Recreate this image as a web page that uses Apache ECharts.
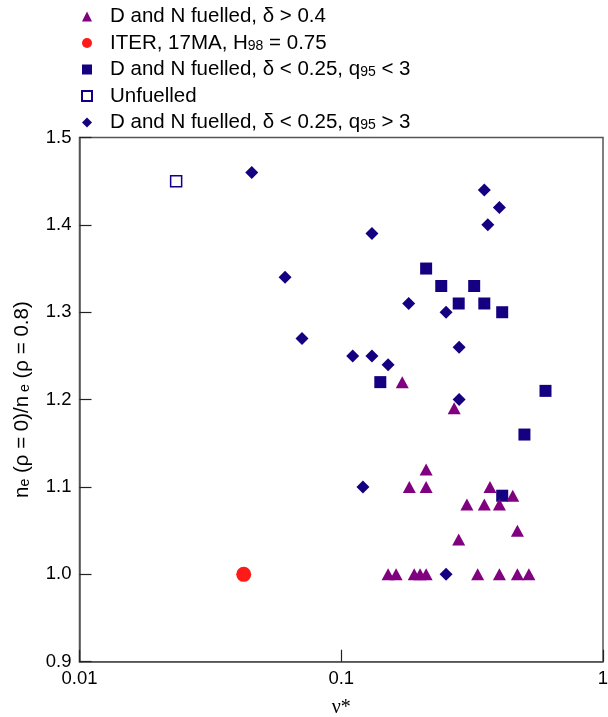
<!DOCTYPE html>
<html>
<head>
<meta charset="utf-8">
<script src="https://cdn.jsdelivr.net/npm/echarts@6/dist/echarts.min.js"></script>
<style>
  html, body { margin: 0; padding: 0; background: #fff; }
  #chart { width: 608px; height: 717px; }
</style>
</head>
<body>
<div id="chart"></div>
<script>
// D and N fuelled, delta > 0.4
const nuTri = [0.171, 0.270, 0.211, 0.182, 0.211, 0.370, 0.452, 0.302, 0.352, 0.402, 0.471, 0.281,
  0.151, 0.162, 0.190, 0.200, 0.211, 0.332, 0.402, 0.471, 0.521]
const neTri = [1.22, 1.19, 1.12, 1.10, 1.10, 1.10, 1.09, 1.08, 1.08, 1.08, 1.05, 1.04,
  1.00, 1.00, 1.00, 1.00, 1.00, 1.00, 1.00, 1.00, 1.00]

// ITER point
const nuIter = [0.0424]
const neIter = [1.0]

// D and N fuelled, delta < 0.25, q95 < 3
const nuSq = [0.141, 0.211, 0.241, 0.322, 0.281, 0.352, 0.412, 0.603, 0.501, 0.412]
const neSq = [1.22, 1.35, 1.33, 1.33, 1.31, 1.31, 1.30, 1.21, 1.16, 1.09]

// unfuelled
const nuUnf = [0.0234]
const neUnf = [1.45]

// D and N fuelled, delta < 0.25, q95 > 3
const nuDia = [0.0455, 0.061, 0.0708, 0.1106, 0.131, 0.151, 0.131, 0.181, 0.2515, 0.282, 0.282,
  0.352, 0.402, 0.363, 0.121, 0.2515]
const neDia = [1.46, 1.34, 1.27, 1.25, 1.25, 1.24, 1.39, 1.31, 1.30, 1.26, 1.20,
  1.44, 1.42, 1.40, 1.10, 1.00]

const xTicks = [0.01, 0.1, 1]
const yTicks = [0.9, 1.0, 1.1, 1.2, 1.3, 1.4, 1.5]

const legendNames = [
  'D and N fuelled, δ > 0.4',
  'ITER, 17MA, H98 = 0.75',
  'D and N fuelled, δ < 0.25, q95 < 3',
  'Unfuelled',
  'D and N fuelled, δ < 0.25, q95 > 3'
]

const navy = '#140080'
const purple = '#80007f'
const red = '#ff1a1a'
const font = '"Liberation Sans", Arial, sans-serif'

const zip = (xs, ys) => xs.map((x, i) => [x, ys[i]])

const chart = echarts.init(document.getElementById('chart'), null, { renderer: 'canvas' })

const option = {
  animation: false,
  backgroundColor: '#fff',
  grid: {
    left: 79.5, right: 5, top: 137.5, bottom: 55.3,
    outerBoundsMode: 'none',
    show: true, borderColor: '#555', borderWidth: 1.5, backgroundColor: 'transparent'
  },
  legend: {
    orient: 'vertical',
    left: 81,
    top: 6,
    padding: 0,
    itemWidth: 10,
    itemHeight: 10,
    itemGap: 5.5,
    selectedMode: false,
    data: [
      { name: legendNames[0], icon: 'triangle' },
      { name: legendNames[1], icon: 'circle' },
      { name: legendNames[2], icon: 'rect' },
      { name: legendNames[3], icon: 'rect' },
      { name: legendNames[4], icon: 'diamond' }
    ],
    formatter: (name) => '{pad| }' + name
      .replace('H98', 'H{sub|98}')
      .replace(/q95/g, 'q{sub|95}'),
    textStyle: {
      fontFamily: font, fontSize: 20.5, color: '#000', lineHeight: 20,
      rich: {
        pad: { width: 13, fontSize: 10, lineHeight: 20 },
        sub: { fontSize: 14, lineHeight: 10, verticalAlign: 'bottom', fontFamily: font, color: '#000' }
      }
    }
  },
  xAxis: {
    type: 'log',
    logBase: 10,
    min: xTicks[0],
    max: xTicks[xTicks.length - 1],
    name: 'ν*',
    nameLocation: 'middle',
    nameGap: 36,
    nameTextStyle: { fontFamily: '"Liberation Serif", serif', fontSize: 20, color: '#000' },
    axisLine: { lineStyle: { color: '#555', width: 1.5 } },
    axisTick: { inside: true, length: 12, lineStyle: { color: '#222', width: 1.2 } },
    minorTick: { show: false },
    splitLine: { show: false },
    axisLabel: {
      fontFamily: font, fontSize: 18.5, color: '#000', margin: 8,
      formatter: (v) => xTicks.find(t => Math.abs(t - v) / t < 1e-6) !== undefined ? String(v) : ''
    }
  },
  yAxis: {
    type: 'value',
    min: yTicks[0],
    max: yTicks[yTicks.length - 1],
    interval: 0.1,
    name: 'n{sub|e} (ρ = 0)/n{sub| e} (ρ = 0.8)',
    nameLocation: 'middle',
    nameGap: 47,
    nameTextStyle: {
      fontFamily: font, fontSize: 20.5, color: '#000', lineHeight: 20,
      rich: { sub: { fontSize: 14, lineHeight: 10, verticalAlign: 'bottom', fontFamily: font, color: '#000' } }
    },
    axisLine: { lineStyle: { color: '#555', width: 1.5 } },
    axisTick: { inside: true, length: 12, lineStyle: { color: '#222', width: 1.2 } },
    splitLine: { show: false },
    axisLabel: {
      fontFamily: font, fontSize: 18.5, color: '#000', margin: 8,
      formatter: (v) => v.toFixed(1)
    }
  },
  series: [
    {
      name: legendNames[4], type: 'scatter', symbol: 'diamond', symbolSize: [13, 13],
      itemStyle: { color: navy, opacity: 1 },
      data: zip(nuDia, neDia), z: 3
    },
    {
      name: legendNames[2], type: 'scatter', symbol: 'rect', symbolSize: 12,
      itemStyle: { color: navy, opacity: 1 },
      data: zip(nuSq, neSq), z: 4
    },
    {
      name: legendNames[0], type: 'scatter', symbol: 'triangle', symbolSize: [13, 12],
      itemStyle: { color: purple, opacity: 1 },
      data: zip(nuTri, neTri), z: 5
    },
    {
      name: legendNames[3], type: 'scatter', symbol: 'rect', symbolSize: 11,
      itemStyle: { color: '#fff', borderColor: navy, borderWidth: 1.5, opacity: 1 },
      data: zip(nuUnf, neUnf), z: 5
    },
    {
      name: legendNames[1], type: 'scatter', symbol: 'circle', symbolSize: 15,
      itemStyle: { color: red, opacity: 1 },
      data: zip(nuIter, neIter), z: 5
    }
  ]
}

chart.setOption(option)
</script>
</body>
</html>
